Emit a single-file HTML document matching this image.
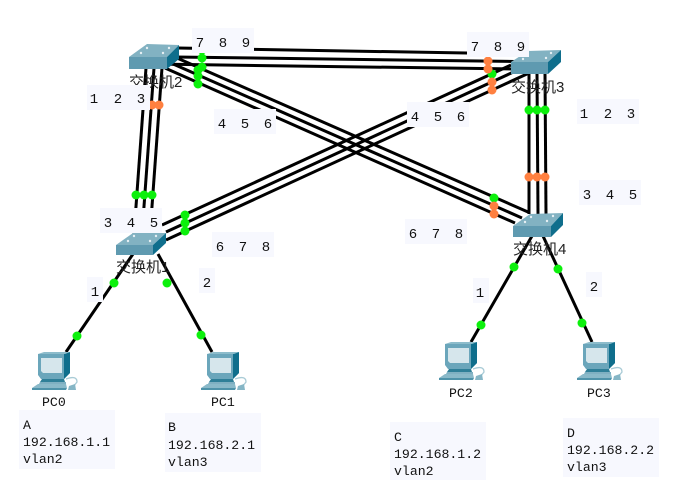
<!DOCTYPE html>
<html>
<head>
<meta charset="utf-8">
<style>
html,body{margin:0;padding:0;background:#fff;width:695px;height:484px;overflow:hidden}
svg{display:block}
.m{font-family:"Liberation Mono",monospace;font-size:13.2px;fill:#111}
.d{font-family:"Liberation Mono",monospace;font-size:14px;fill:#111;text-anchor:middle}
.c{font-family:"Liberation Sans","WenQuanYi Zen Hei",sans-serif;font-size:15px;fill:#222}
</style>
</head>
<body>
<svg width="695" height="484" viewBox="0 0 695 484" xmlns="http://www.w3.org/2000/svg">
<rect width="695" height="484" fill="#fff"/>
<defs>
<g id="pc">
<polygon points="38,354 65,354 70,352 70,373 64,379 41,379 38,375" fill="#6ba6bb"/>
<polygon points="64,354 70,352 70,373 64,379" fill="#0f6e8c"/>
<polygon points="38,354 65,354 70,352 44,352" fill="#8dbccb"/>
<polygon points="41,358 62,358 62,373 43,373 41,371" fill="#d6e6ec"/>
<polygon points="42,379 64,379 65,382 40,382" fill="#2f7f98"/>
<polygon points="40,382 66,382 66,384 39,384" fill="#7fb0c2"/>
<polygon points="38,384 66,384 67,388 32,388" fill="#8ab9c9"/>
<polygon points="32,388 67,388 66,390 32,390" fill="#4f93aa"/>
<path d="M66,379 Q77,375 77,382 L73,387" fill="none" stroke="#a9cbd6" stroke-width="1.3"/>
<polygon points="69,386 75,384 76,390 68,390" fill="#86b6c6"/>
</g>
</defs>
<g fill="none" stroke="#000" stroke-width="3" stroke-linecap="butt">
<!-- sw2-sw3 -->
<line x1="178" y1="48" x2="520" y2="54"/>
<line x1="175" y1="57" x2="515" y2="61.5"/>
<line x1="170" y1="64.3" x2="515" y2="69"/>
<!-- sw2-sw4 -->
<line x1="177" y1="58" x2="528" y2="212"/>
<line x1="172" y1="63.5" x2="522" y2="218"/>
<line x1="165" y1="68" x2="515" y2="223"/>
<!-- sw3-sw1 -->
<line x1="162" y1="225" x2="511" y2="65"/>
<line x1="166" y1="232" x2="520" y2="69"/>
<line x1="166" y1="240" x2="528" y2="73.5"/>
<!-- sw2-sw1 -->
<line x1="146" y1="68" x2="134" y2="234"/>
<line x1="154" y1="68" x2="142" y2="234"/>
<line x1="162" y1="68" x2="150" y2="234"/>
<!-- sw3-sw4 -->
<line x1="529" y1="73" x2="529" y2="214"/>
<line x1="537" y1="73" x2="538" y2="214"/>
<line x1="545" y1="73" x2="546" y2="214"/>
<!-- pc links -->
<line x1="133" y1="254" x2="66" y2="352"/>
<line x1="158" y1="254" x2="212" y2="352"/>
<line x1="532" y1="236" x2="471" y2="342"/>
<line x1="543" y1="236" x2="592" y2="342"/>
</g>
<!-- switches -->
<g>
<polygon points="129,57 147,44 179,45 167,57" fill="#82b2c2"/>
<rect x="129" y="57" width="38" height="12" fill="#5f9ab0"/>
<polygon points="167,57 179,45 179,59 167,69" fill="#0f6e8c"/>
<g fill="#e6f0f4"><circle cx="147" cy="48" r="1.2"/><circle cx="169" cy="48" r="1.2"/><circle cx="141" cy="53" r="1.2"/><circle cx="163" cy="53" r="1.2"/></g>
<polygon points="511,62 528,51 561,50 548,62" fill="#82b2c2"/>
<rect x="511" y="62" width="37" height="12" fill="#5f9ab0"/>
<polygon points="548,62 561,50 561,62 548,74" fill="#0f6e8c"/>
<g fill="#e6f0f4"><circle cx="551" cy="53" r="1.2"/><circle cx="523" cy="59" r="1.2"/><circle cx="546" cy="58" r="1.2"/></g>
<polygon points="116,245 133,233 166,233 153,245" fill="#82b2c2"/>
<rect x="116" y="245" width="37" height="10" fill="#5f9ab0"/>
<polygon points="153,245 166,233 166,243 153,255" fill="#0f6e8c"/>
<g fill="#e6f0f4"><circle cx="134" cy="236" r="1.2"/><circle cx="156" cy="236" r="1.2"/><circle cx="128" cy="241" r="1.2"/><circle cx="150" cy="241" r="1.2"/></g>
<polygon points="513,226 530,214 563,213 551,226" fill="#82b2c2"/>
<rect x="513" y="226" width="38" height="11" fill="#5f9ab0"/>
<polygon points="551,226 563,213 563,225 551,237" fill="#0f6e8c"/>
<g fill="#e6f0f4"><circle cx="531" cy="217" r="1.2"/><circle cx="553" cy="216" r="1.2"/><circle cx="525" cy="222" r="1.2"/><circle cx="547" cy="221" r="1.2"/></g>
</g>
<use href="#pc"/>
<use href="#pc" transform="translate(169,0)"/>
<use href="#pc" transform="translate(407,-10)"/>
<use href="#pc" transform="translate(545,-10)"/>
<!-- dots -->
<g fill="#0cf00c">
<circle cx="202" cy="50" r="4.5"/><circle cx="202" cy="58" r="4.5"/><circle cx="202" cy="67" r="4.5"/>
<circle cx="198" cy="70" r="4.5"/><circle cx="198" cy="76" r="4.5"/><circle cx="198" cy="84" r="4.5"/>
<circle cx="136" cy="195" r="4.5"/><circle cx="144" cy="195" r="4.5"/><circle cx="152" cy="195" r="4.5"/>
<circle cx="185" cy="215" r="4.5"/><circle cx="185" cy="223" r="4.5"/><circle cx="185" cy="231" r="4.5"/>
<circle cx="114" cy="283" r="4.5"/><circle cx="167" cy="283" r="4.5"/><circle cx="77" cy="336" r="4.5"/><circle cx="201" cy="335" r="4.5"/>
<circle cx="492" cy="74" r="4.5"/>
<circle cx="529" cy="110" r="4.5"/><circle cx="537" cy="110" r="4.5"/><circle cx="545" cy="110" r="4.5"/>
<circle cx="494" cy="198" r="4.5"/>
<circle cx="514" cy="267" r="4.5"/><circle cx="558" cy="269" r="4.5"/><circle cx="481" cy="325" r="4.5"/><circle cx="582" cy="323" r="4.5"/>
</g>
<g fill="#ff8040">
<circle cx="152" cy="105" r="4.5"/><circle cx="159" cy="105" r="4.5"/>
<circle cx="488" cy="61" r="4.5"/><circle cx="488" cy="69" r="4.5"/>
<circle cx="492" cy="82" r="4.5"/><circle cx="492" cy="90" r="4.5"/>
<circle cx="529" cy="177" r="4.5"/><circle cx="537" cy="177" r="4.5"/><circle cx="545" cy="177" r="4.5"/>
<circle cx="494" cy="206" r="4.5"/><circle cx="494" cy="214" r="4.5"/>
</g>
<!-- switch names -->
<text class="c" x="129" y="87">交换机2</text>
<text class="c" x="511" y="92">交换机3</text>
<text class="c" x="116" y="272">交换机1</text>
<text class="c" x="513" y="254">交换机4</text>
<!-- label boxes -->
<g fill="#f7f8fe">
<rect x="192" y="28" width="62" height="25"/>
<rect x="467" y="32" width="62" height="25"/>
<rect x="87" y="85" width="63" height="25"/>
<rect x="214" y="109" width="62" height="25"/>
<rect x="407" y="102" width="62" height="25"/>
<rect x="577" y="99" width="62" height="25"/>
<rect x="579" y="180" width="62" height="25"/>
<rect x="100" y="208" width="62" height="25"/>
<rect x="212" y="232" width="62" height="25"/>
<rect x="405" y="219" width="62" height="25"/>
<rect x="87" y="277" width="16" height="25"/>
<rect x="199" y="268" width="16" height="25"/>
<rect x="473" y="278" width="16" height="25"/>
<rect x="586" y="272" width="16" height="25"/>
<rect x="19" y="410" width="96" height="59"/>
<rect x="165" y="413" width="96" height="59"/>
<rect x="390" y="422" width="96" height="58"/>
<rect x="563" y="418" width="96" height="59"/>
</g>
<!-- digit labels -->
<text class="d" x="200" y="47">7</text><text class="d" x="223" y="47">8</text><text class="d" x="246" y="47">9</text>
<text class="d" x="475" y="51">7</text><text class="d" x="498" y="51">8</text><text class="d" x="521" y="51">9</text>
<text class="d" x="94" y="103">1</text><text class="d" x="118" y="103">2</text><text class="d" x="141" y="103">3</text>
<text class="d" x="222" y="128">4</text><text class="d" x="245" y="128">5</text><text class="d" x="268" y="128">6</text>
<text class="d" x="415" y="121">4</text><text class="d" x="438" y="121">5</text><text class="d" x="461" y="121">6</text>
<text class="d" x="584" y="118">1</text><text class="d" x="608" y="118">2</text><text class="d" x="631" y="118">3</text>
<text class="d" x="587" y="199">3</text><text class="d" x="610" y="199">4</text><text class="d" x="633" y="199">5</text>
<text class="d" x="108" y="227">3</text><text class="d" x="131" y="227">4</text><text class="d" x="154" y="227">5</text>
<text class="d" x="220" y="251">6</text><text class="d" x="243" y="251">7</text><text class="d" x="266" y="251">8</text>
<text class="d" x="413" y="238">6</text><text class="d" x="436" y="238">7</text><text class="d" x="459" y="238">8</text>
<text class="d" x="95" y="296">1</text>
<text class="d" x="207" y="287">2</text>
<text class="d" x="480" y="297">1</text>
<text class="d" x="594" y="291">2</text>
<!-- pc names -->
<text class="m" x="42" y="406">PC0</text>
<text class="m" x="211" y="406">PC1</text>
<text class="m" x="449" y="397">PC2</text>
<text class="m" x="587" y="397">PC3</text>
<!-- notes -->
<text class="m" x="23" y="429">A</text><text class="m" x="23" y="446">192.168.1.1</text><text class="m" x="23" y="463">vlan2</text>
<text class="m" x="168" y="431">B</text><text class="m" x="168" y="449">192.168.2.1</text><text class="m" x="168" y="466">vlan3</text>
<text class="m" x="394" y="441">C</text><text class="m" x="394" y="458">192.168.1.2</text><text class="m" x="394" y="475">vlan2</text>
<text class="m" x="567" y="437">D</text><text class="m" x="567" y="454">192.168.2.2</text><text class="m" x="567" y="471">vlan3</text>
</svg>
</body>
</html>
